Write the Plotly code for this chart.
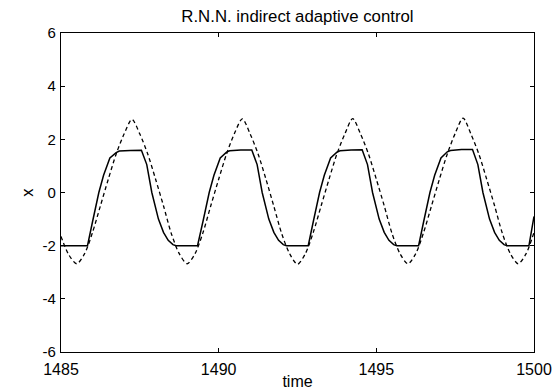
import plotly.graph_objects as go

# Reference (dashed) signal sampled every 0.25 time units from 1485 to 1500
t_ref = [1485 + 0.25 * i for i in range(61)]
x_ref = [-1.65, -2.35, -2.68, -2.3, -1.5, -0.5, 0.5, 1.45, 2.2, 2.75,
         2.2, 1.45, 0.5, -0.5, -1.55, -2.3, -2.68, -2.3, -1.52, -0.5,
         0.5, 1.45, 2.22, 2.77, 2.2, 1.45, 0.5, -0.52, -1.55, -2.3,
         -2.7, -2.3, -1.5, -0.5, 0.5, 1.45, 2.2, 2.78, 2.2, 1.45,
         0.5, -0.5, -1.55, -2.3, -2.68, -2.3, -1.5, -0.5, 0.5, 1.45,
         2.22, 2.8, 2.2, 1.45, 0.5, -0.5, -1.55, -2.3, -2.68, -2.3, -1.5]

# Plant output (solid) read at its breakpoints
t_out = [1485.00, 1485.84, 1486.00, 1486.20, 1486.35, 1486.55, 1486.75, 1486.85, 1487.20, 1487.55,
         1487.72, 1487.88, 1488.09, 1488.25, 1488.40, 1488.55, 1488.65,
         1489.33, 1489.50, 1489.70, 1489.85, 1490.05, 1490.25, 1490.35, 1490.70, 1491.05,
         1491.22, 1491.38, 1491.59, 1491.75, 1491.90, 1492.05, 1492.15,
         1492.84, 1493.00, 1493.20, 1493.35, 1493.55, 1493.75, 1493.85, 1494.20, 1494.55,
         1494.72, 1494.88, 1495.09, 1495.25, 1495.40, 1495.55, 1495.65,
         1496.34, 1496.50, 1496.70, 1496.85, 1497.05, 1497.25, 1497.35, 1497.70, 1498.05,
         1498.22, 1498.38, 1498.59, 1498.75, 1498.90, 1499.05, 1499.15,
         1499.84, 1500.00]
x_out = [-2.0, -2.0, -1.1, 0.0, 0.65, 1.3, 1.5, 1.56, 1.58, 1.59,
         1.05, 0.0, -1.0, -1.5, -1.8, -1.96, -2.0,
         -2.0, -1.1, 0.0, 0.65, 1.3, 1.52, 1.57, 1.6, 1.6,
         1.05, 0.0, -1.0, -1.5, -1.8, -1.96, -2.0,
         -2.0, -1.1, 0.0, 0.65, 1.3, 1.52, 1.57, 1.6, 1.61,
         1.05, 0.0, -1.0, -1.5, -1.8, -1.96, -2.0,
         -2.0, -1.1, 0.0, 0.65, 1.3, 1.53, 1.58, 1.62, 1.62,
         1.05, 0.0, -1.0, -1.5, -1.8, -1.96, -2.0,
         -2.0, -0.9]

x_ticks = [1485, 1490, 1495, 1500]
x_labels = ["1485", "1490", "1495", "1500"]
y_ticks = [-6, -4, -2, 0, 2, 4, 6]
y_labels = ["-6", "-4", "-2", "0", "2", "4", "6"]

fig = go.Figure()
fig.add_trace(go.Scatter(x=t_ref, y=x_ref, mode="lines",
                         line=dict(color="black", width=1.3, dash="4px,3px", shape="spline", smoothing=0.8),
                         showlegend=False))
fig.add_trace(go.Scatter(x=t_out, y=x_out, mode="lines",
                         line=dict(color="black", width=1.5),
                         showlegend=False))

font = dict(family="Liberation Sans, Arial, sans-serif", size=16, color="black")
fig.update_layout(
    width=556, height=390,
    margin=dict(l=61, r=22, t=33, b=38, autoexpand=False),
    paper_bgcolor="white", plot_bgcolor="white",
    font=font,
    title=dict(text="R.N.N. indirect adaptive control", x=0.535, xanchor="center",
               y=0.958, yanchor="middle", font=dict(size=16.8)),
    xaxis=dict(range=[1485, 1500], tickvals=x_ticks, ticktext=x_labels, ticks="inside", ticklen=4,
               showgrid=False, zeroline=False, showline=True, linecolor="black", automargin=False,
               linewidth=1.2, mirror="allticks", tickcolor="black", ticklabelstandoff=3,
               title=dict(text="time", standoff=0, font=dict(size=16)), tickfont=dict(size=16)),
    yaxis=dict(range=[-6, 6], tickvals=y_ticks, ticktext=y_labels, ticks="inside", ticklen=4,
               showgrid=False, zeroline=False, showline=True, linecolor="black", automargin=False,
               linewidth=1.2, mirror="allticks", tickcolor="black", ticklabelstandoff=1,
               title=dict(text="x", standoff=4, font=dict(size=16.5)), tickfont=dict(size=15)),
)

fig.write_html("out.html")
